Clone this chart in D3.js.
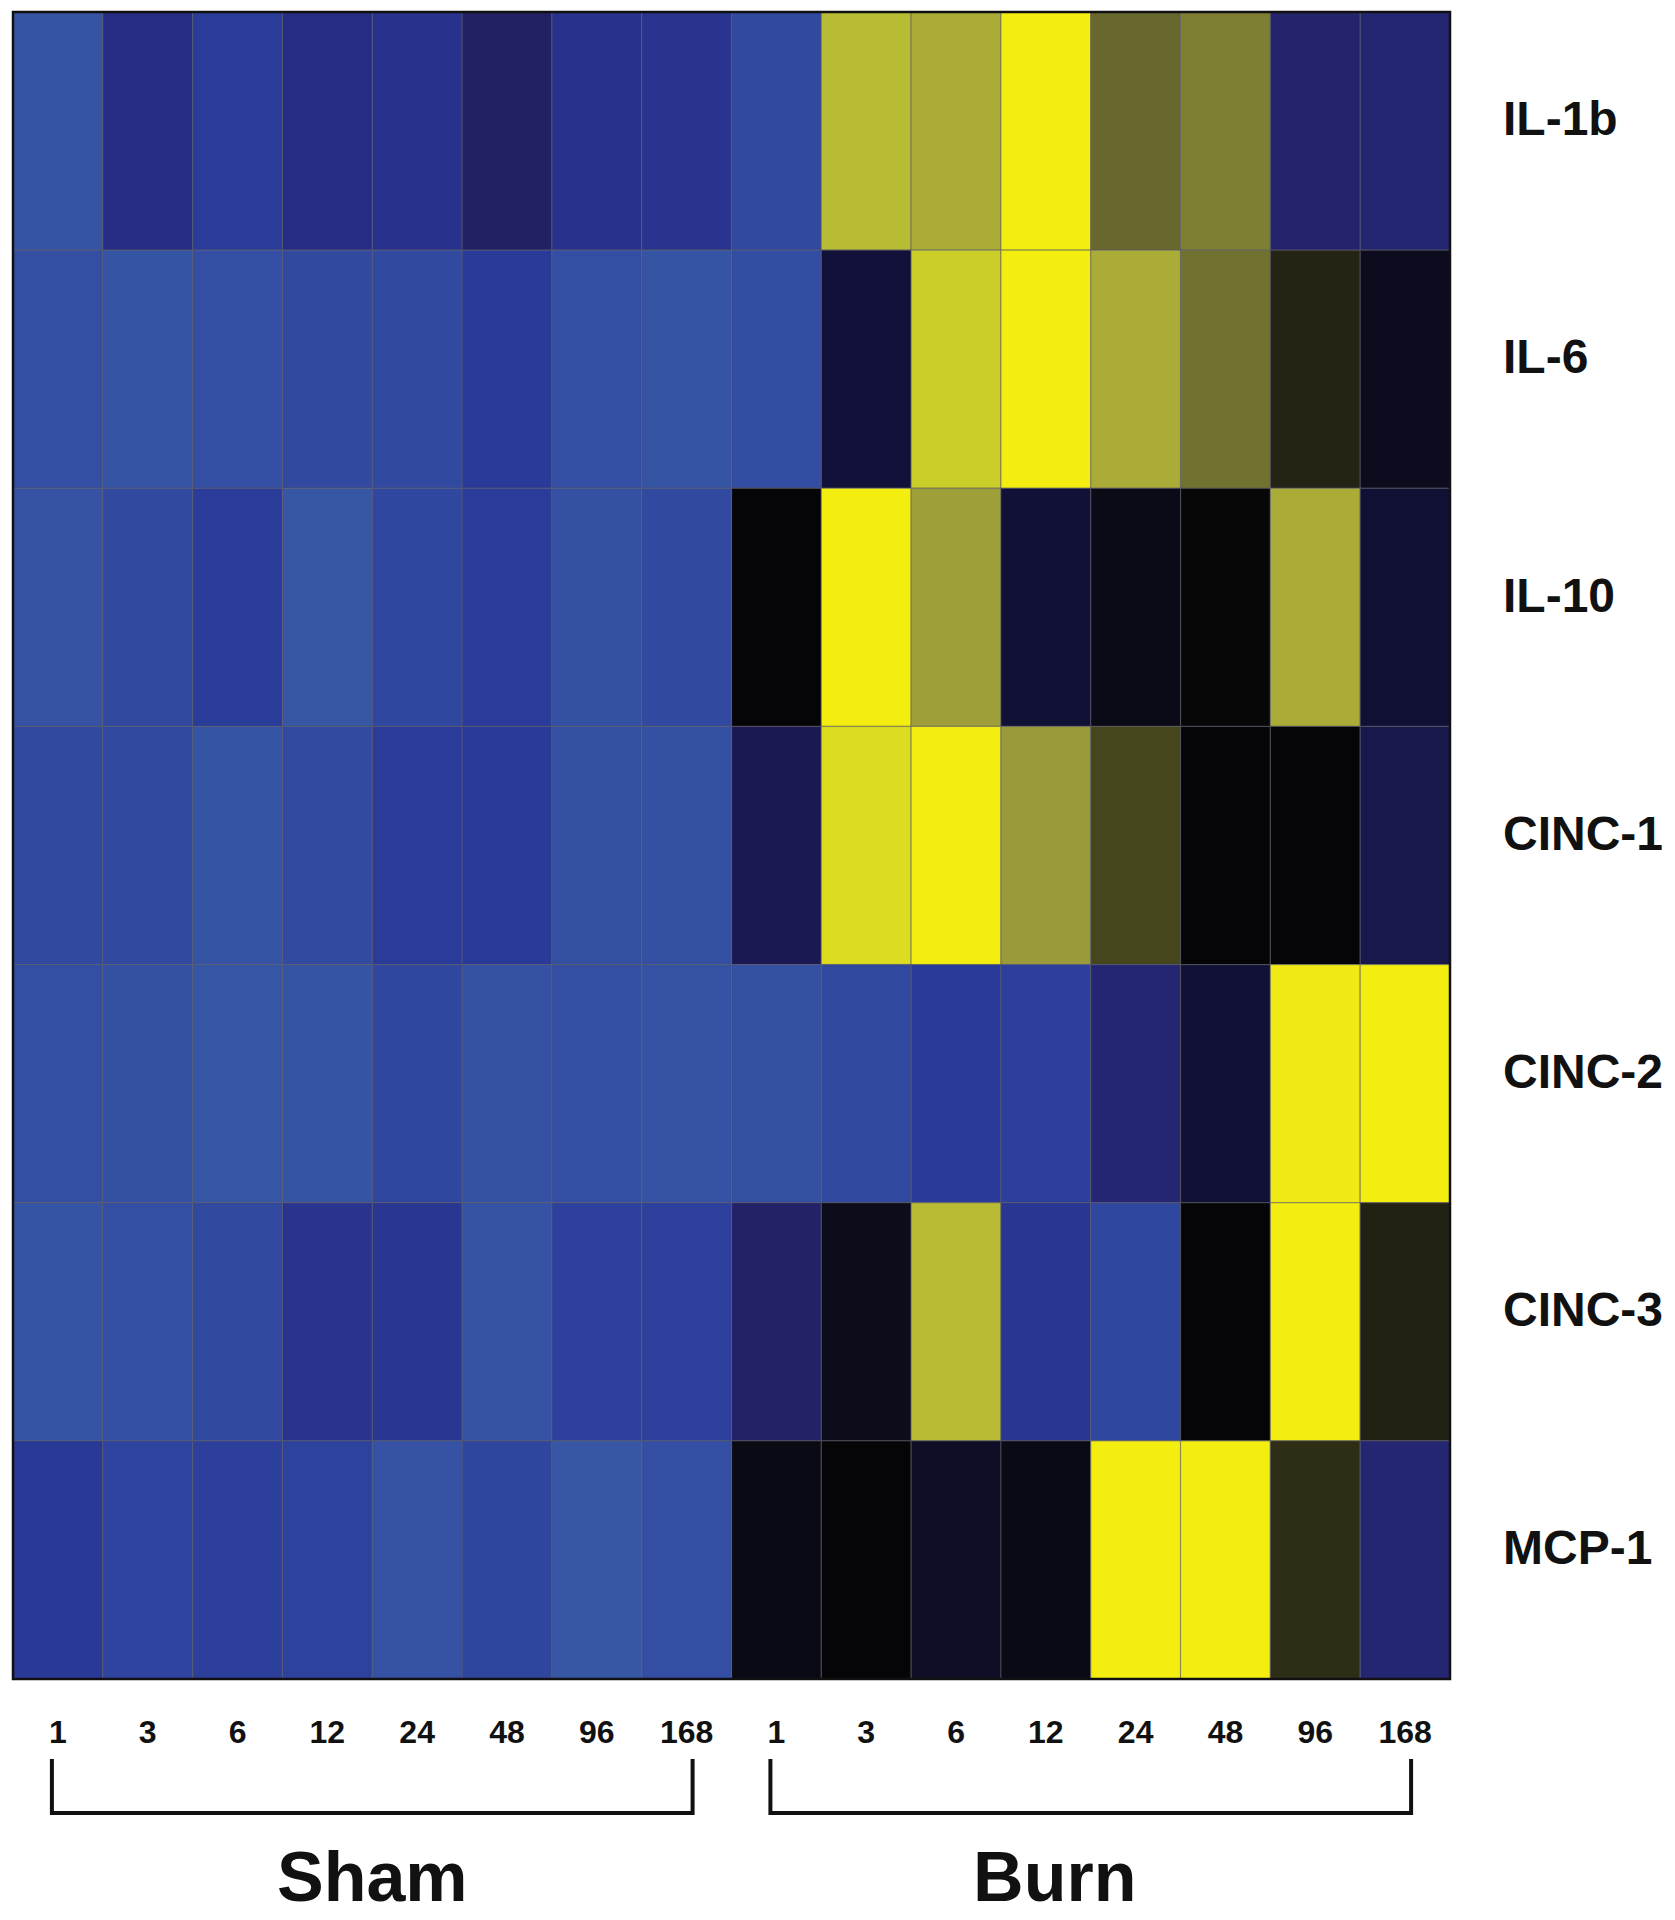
<!DOCTYPE html>
<html>
<head>
<meta charset="utf-8">
<script src="https://cdn.jsdelivr.net/npm/d3@7"></script>
<style>
  body { margin: 0; background: #fff; }
  text { font-family: "Liberation Sans", Arial, sans-serif; font-weight: bold; fill: #111; }
</style>
</head>
<body>
<div id="chart"></div>
<script>
// rows (cytokines) and time points (hours)
var cytokines = ["IL-1b", "IL-6", "IL-10", "CINC-1", "CINC-2", "CINC-3", "MCP-1"];
var hours = ["1", "3", "6", "12", "24", "48", "96", "168"];
var groups = ["Sham", "Burn"];

// relative expression, -1 = blue (low), 0 = black, 1 = yellow (high)
var shamValues = [
    [-0.97, -0.60, -0.80, -0.60, -0.68, -0.46, -0.68, -0.70],
    [-0.93, -0.97, -0.93, -0.90, -0.90, -0.78, -0.93, -0.97],
    [-0.96, -0.90, -0.80, -0.99, -0.88, -0.79, -0.94, -0.90],
    [-0.90, -0.90, -0.97, -0.91, -0.79, -0.78, -0.94, -0.94],
    [-0.93, -0.94, -0.98, -0.97, -0.88, -0.95, -0.93, -0.96],
    [-0.97, -0.93, -0.89, -0.70, -0.74, -0.96, -0.83, -0.83],
    [-0.76, -0.86, -0.82, -0.84, -0.96, -0.87, -0.99, -0.93]
];
var burnValues = [
    [-0.90,  0.75,  0.68,  1.00,  0.45,  0.52, -0.50, -0.52],
    [-0.92, -0.28,  0.83,  1.00,  0.68,  0.48,  0.16, -0.16],
    [ 0.00,  1.00,  0.62, -0.27, -0.12,  0.01,  0.68, -0.26],
    [-0.38,  0.90,  1.00,  0.60,  0.30,  0.00,  0.00, -0.36],
    [-0.94, -0.89, -0.78, -0.82, -0.52, -0.27,  0.98,  1.00],
    [-0.48, -0.14,  0.75, -0.74, -0.88,  0.00,  1.00,  0.15],
    [-0.10,  0.00, -0.20, -0.10,  1.00,  1.00,  0.20, -0.52]
];

var colorStops = [-1, -0.8, -0.6, -0.45, -0.3, -0.15, 0, 0.15, 0.3, 0.45, 0.6, 0.75, 0.9, 1];
var colorRange = ["#3858a6", "#2a3c9a", "#272c84", "#222062", "#12123e", "#0c0c1c", "#050507",
                  "#222214", "#46461e", "#68682e", "#9a9a3a", "#b8bc34", "#dcdc20", "#f4ee10"];

var width = 1675, height = 1920;
var heat = {left: 13, right: 1450, top: 12, bottom: 1679};

// build cells from the arrays
var columns = [];
groups.forEach(function(g) {
    hours.forEach(function(h) { columns.push(g + "-" + h); });
});
var cells = [];
cytokines.forEach(function(c, i) {
    hours.forEach(function(h, j) {
        cells.push({row: c, col: "Sham-" + h, value: shamValues[i][j]});
        cells.push({row: c, col: "Burn-" + h, value: burnValues[i][j]});
    });
});

var x = d3.scaleBand().domain(columns).range([heat.left, heat.right]);
var y = d3.scaleBand().domain(cytokines).range([heat.top, heat.bottom]);
var color = d3.scaleLinear().domain(colorStops).range(colorRange).clamp(true);

var svg = d3.select("#chart").append("svg")
            .attr("width", width)
            .attr("height", height);

svg.append("g")
   .selectAll("rect")
   .data(cells)
   .join("rect")
      .attr("x", function(d) { return x(d.col); })
      .attr("y", function(d) { return y(d.row); })
      .attr("width", x.bandwidth())
      .attr("height", y.bandwidth())
      .style("fill", function(d) { return color(d.value); })
      .style("stroke", "rgba(90,90,100,0.55)")
      .style("stroke-width", 1.2);

// outer frame
svg.append("rect")
   .attr("x", heat.left)
   .attr("y", heat.top)
   .attr("width", heat.right - heat.left)
   .attr("height", heat.bottom - heat.top)
   .style("fill", "none")
   .style("stroke", "#111")
   .style("stroke-width", 2.5);

// cytokine labels on the right
svg.append("g")
   .selectAll("text")
   .data(cytokines)
   .join("text")
      .attr("x", heat.right + 53)
      .attr("y", function(d) { return y(d) + y.bandwidth() / 2 - 13; })
      .attr("dy", "0.36em")
      .attr("font-size", "48px")
      .text(function(d) { return d; });

// hour labels under the map
var xAxis = d3.axisBottom(x)
              .tickSize(0)
              .tickPadding(41)
              .tickFormat(function(d) { return d.split("-")[1]; });
var axisG = svg.append("g")
               .attr("transform", "translate(0," + heat.bottom + ")")
               .call(xAxis);
axisG.select(".domain").remove();
axisG.selectAll("text")
     .attr("font-size", "32px")
     .attr("font-family", "'Liberation Sans', Arial, sans-serif")
     .attr("font-weight", "bold")
     .style("fill", "#111");

// group brackets and names
var bracketTop = 1759, bracketBottom = 1813;
var labelShift = {Sham: 0, Burn: -36};
groups.forEach(function(g) {
    var x0 = x(g + "-" + hours[0]) + x.bandwidth() / 2 - 6,
        x1 = x(g + "-" + hours[hours.length - 1]) + x.bandwidth() / 2 + 6;
    svg.append("path")
       .attr("d", "M" + x0 + "," + bracketTop + "V" + bracketBottom + "H" + x1 + "V" + bracketTop)
       .style("fill", "none")
       .style("stroke", "#111")
       .style("stroke-width", 4);
    svg.append("text")
       .attr("x", (x0 + x1) / 2 + labelShift[g])
       .attr("y", 1901)
       .attr("text-anchor", "middle")
       .attr("font-size", "70px")
       .text(g);
});
</script>
</body>
</html>
